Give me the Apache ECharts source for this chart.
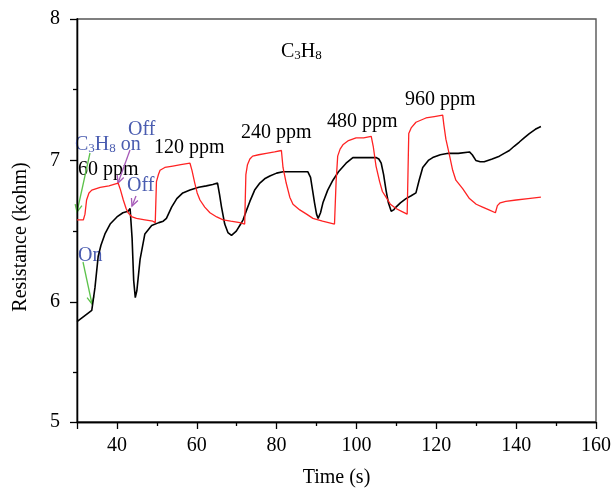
<!DOCTYPE html>
<html>
<head>
<meta charset="utf-8">
<script src="https://cdn.jsdelivr.net/npm/echarts@6/dist/echarts.min.js"></script>
<style>
html, body { margin: 0; padding: 0; background: #fff; }
#main { width: 614px; height: 493px; }
</style>
</head>
<body>
<div id="main"></div>
<script>
// sensor response, black trace
var blackTime = [30.0, 33.7, 34.5, 35.3, 36.0, 37.0, 38.3, 40.0, 41.5, 42.8, 43.3, 43.8, 44.2, 44.6, 45.0, 45.8,
    47.0, 48.7, 50.5, 51.6, 52.4, 53.7, 55.0, 56.5, 58.3, 60.5, 62.4, 64.0, 65.2, 65.7, 66.2, 67.0, 67.8, 68.7,
    69.9, 71.0, 71.6, 72.5, 73.3, 74.5, 75.8, 77.0, 78.3, 80.0, 81.6, 84.0, 87.8, 88.5, 89.0, 89.5, 90.0, 90.4,
    91.0, 91.6, 92.8, 94.1, 95.5, 97.4, 99.1, 101.0, 103.0, 104.9, 105.6, 106.2, 106.8, 107.4, 108.0, 108.7,
    109.3, 109.9, 111.0, 112.4, 113.7, 114.9, 115.7, 116.6, 118.0, 119.1, 121.0, 123.0, 125.5, 128.3, 129.0,
    129.9, 131.0, 132.0, 134.0, 135.8, 137.0, 138.3, 139.5, 140.8, 142.0, 143.3, 144.8, 146.2];
var blackRes = [5.86, 5.94, 6.10, 6.32, 6.40, 6.48, 6.55, 6.60, 6.63, 6.64, 6.66, 6.45, 6.15, 6.03, 6.08, 6.30,
    6.48, 6.54, 6.56, 6.57, 6.59, 6.67, 6.73, 6.77, 6.79, 6.81, 6.82, 6.83, 6.84, 6.76, 6.67, 6.55, 6.49, 6.47,
    6.50, 6.55, 6.58, 6.65, 6.71, 6.79, 6.84, 6.87, 6.89, 6.91, 6.92, 6.92, 6.92, 6.88, 6.79, 6.70, 6.62, 6.59,
    6.63, 6.70, 6.79, 6.86, 6.92, 6.98, 7.02, 7.02, 7.02, 7.02, 7.01, 6.98, 6.90, 6.79, 6.70, 6.64,
    6.65, 6.67, 6.70, 6.73, 6.75, 6.77, 6.86, 6.95, 7.00, 7.02, 7.04, 7.05, 7.05, 7.06, 7.04,
    7.00, 6.99, 6.99, 7.01, 7.03, 7.05, 7.07, 7.10, 7.13, 7.16, 7.19, 7.22, 7.24];

// sensor response, red trace
var redTime = [30.0, 31.6, 32.0, 32.4, 33.0, 33.7, 35.8, 38.0, 40.3, 40.8, 41.6, 42.3, 42.8, 43.8, 44.9, 47.0,
    49.0, 49.6, 49.9, 50.4, 50.8, 52.0, 54.0, 56.0, 58.3, 58.8, 59.5, 60.1, 60.8, 62.0, 63.3, 65.0, 66.6, 68.5,
    70.8, 72.0, 72.3, 72.7, 73.3, 74.0, 75.5, 77.4, 79.5, 81.2, 81.6, 82.4, 83.3, 84.1, 85.8, 87.5, 89.1, 91.5,
    94.5, 94.9, 95.3, 95.9, 96.6, 98.0, 99.9, 101.8, 103.7, 104.2, 104.9, 105.8, 106.5, 107.4, 108.5, 109.9,
    111.3, 112.7, 112.9, 113.1, 113.7, 114.9, 117.4, 119.5, 121.6, 121.9, 122.4, 123.2, 124.1, 124.9, 126.6,
    128.3, 130.0, 131.6, 133.2, 134.8, 135.3, 136.0, 137.4, 140.0, 143.0, 146.2];
var redRes = [6.58, 6.58, 6.62, 6.72, 6.77, 6.79, 6.81, 6.82, 6.84, 6.80, 6.72, 6.66, 6.63, 6.60, 6.59, 6.58,
    6.57, 6.56, 6.85, 6.90, 6.93, 6.95, 6.96, 6.97, 6.98, 6.93, 6.84, 6.77, 6.72, 6.67, 6.63, 6.60, 6.58, 6.57,
    6.56, 6.55, 6.90, 6.97, 7.01, 7.03, 7.04, 7.05, 7.06, 7.07, 6.95, 6.84, 6.74, 6.69, 6.65, 6.62, 6.59, 6.57,
    6.55, 6.85, 7.03, 7.08, 7.11, 7.14, 7.16, 7.16, 7.17, 7.10, 6.96, 6.85, 6.78, 6.74, 6.69, 6.66,
    6.64, 6.62, 6.90, 7.19, 7.23, 7.27, 7.30, 7.31, 7.32, 7.25, 7.15, 7.05, 6.93, 6.86, 6.80,
    6.73, 6.69, 6.67, 6.65, 6.63, 6.68, 6.70, 6.71, 6.72, 6.73, 6.74];

var xTicks = [30, 40, 60, 80, 100, 120, 140, 160];
var xLabels = [40, 60, 80, 100, 120, 140, 160];
var xMinorTicks = [50, 70, 90, 110, 130, 150];
var yTicks = [5, 6, 7, 8];
var yMinorTicks = [5.5, 6.5, 7.5];
var yBottom = 5.15;   // the drawn axis stops a bit above 5, where the "5" label sits

var ppmLabels = ['60 ppm', '120 ppm', '240 ppm', '480 ppm', '960 ppm'];

var serif = 'Liberation Serif';
var blue = '#4a5cb0';
var green = '#5cc24a';
var purple = '#a65ab8';

function pairs(xs, ys) {
    return xs.map(function (x, i) { return [x, ys[i]]; });
}

var yTickPos = yTicks.map(function (v) { return Math.max(v, yBottom); });

function arrow(x1, y1, x2, y2, color) {
    var a = Math.atan2(y2 - y1, x2 - x1), h = 8, s = 0.45;
    return {
        type: 'group',
        children: [
            { type: 'line', shape: { x1: x1, y1: y1, x2: x2, y2: y2 }, style: { stroke: color, lineWidth: 1.3 } },
            { type: 'polyline', shape: { points: [
                [x2 - h * Math.cos(a - s), y2 - h * Math.sin(a - s)], [x2, y2],
                [x2 - h * Math.cos(a + s), y2 - h * Math.sin(a + s)]] },
              style: { stroke: color, lineWidth: 1.3, fill: null } }
        ]
    };
}

function label(txt, x, y, color, size) {
    return {
        type: 'text', x: x, y: y,
        style: { text: txt, fill: color, font: (size || 20) + 'px "' + serif + '"', align: 'left', verticalAlign: 'middle' }
    };
}

function formula(x, y, color, tail) {
    return {
        type: 'text', x: x, y: y,
        style: {
            text: '{a|C}{b|3}{a|H}{b|8}' + (tail ? '{a|' + tail + '}' : ''),
            fill: color,
            verticalAlign: 'middle',
            rich: {
                a: { fontFamily: serif, fontSize: 20, lineHeight: 24, verticalAlign: 'bottom', fill: color },
                b: { fontFamily: serif, fontSize: 13, lineHeight: 13, verticalAlign: 'bottom', fill: color }
            }
        }
    };
}

var myChart = echarts.init(document.getElementById('main'));

var axisBase = {
    type: 'value',
    splitLine: { show: false },
    axisLine: { show: true, onZero: false, lineStyle: { color: '#000', width: 1.3 } }
};

var option = {
    animation: false,
    backgroundColor: '#fff',
    grid: {
        left: 77, right: 16, top: 19, bottom: 71,
        show: true, borderColor: '#555', borderWidth: 1.4, backgroundColor: 'transparent'
    },
    xAxis: [
        Object.assign({}, axisBase, {
            min: 30, max: 160, position: 'bottom',
            name: 'Time (s)', nameLocation: 'middle', nameGap: 46,
            nameTextStyle: { fontFamily: serif, fontSize: 20, color: '#000' },
            axisTick: { show: true, length: 7, customValues: xTicks, lineStyle: { color: '#000', width: 1.3 } },
            axisLabel: { customValues: xLabels, fontFamily: serif, fontSize: 20, color: '#000', margin: 14 }
        }),
        Object.assign({}, axisBase, {
            min: 30, max: 160, position: 'bottom',
            axisTick: { show: true, length: 4, customValues: xMinorTicks, lineStyle: { color: '#000', width: 1.3 } },
            axisLabel: { show: false }
        })
    ],
    yAxis: [
        Object.assign({}, axisBase, {
            min: yBottom, max: 8, position: 'left',
            axisTick: { show: true, length: 7, customValues: yTickPos, lineStyle: { color: '#000', width: 1.3 } },
            axisLabel: {
                customValues: yTickPos, fontFamily: serif, fontSize: 20, color: '#000', margin: 17,
                formatter: function (v) { return String(yTicks[yTickPos.indexOf(v)]); }
            }
        }),
        Object.assign({}, axisBase, {
            min: yBottom, max: 8, position: 'left',
            axisTick: { show: true, length: 4, customValues: yMinorTicks, lineStyle: { color: '#000', width: 1.3 } },
            axisLabel: { show: false }
        })
    ],
    series: [
        {
            name: 'black', type: 'line', showSymbol: false, symbol: 'none',
            data: pairs(blackTime, blackRes),
            lineStyle: { color: '#000', width: 1.6 }
        },
        {
            name: 'red', type: 'line', showSymbol: false, symbol: 'none',
            data: pairs(redTime, redRes),
            lineStyle: { color: '#ff2323', width: 1.3 }
        }
    ],
    graphic: [
        {
            type: 'text', x: 21, y: 237, rotation: Math.PI / 2,
            style: { text: 'Resistance (kohm)', fill: '#000', font: '20px "' + serif + '"', align: 'center', verticalAlign: 'middle' }
        },
        formula(281, 50, '#000'),
        label(ppmLabels[0], 78, 170, '#000'),
        label(ppmLabels[1], 154, 148, '#000'),
        label(ppmLabels[2], 241, 133, '#000'),
        label(ppmLabels[3], 327, 122, '#000'),
        label(ppmLabels[4], 405, 100, '#000'),
        formula(75, 143, blue, ' on'),
        label('Off', 128, 130, blue),
        label('Off', 127, 186, blue),
        label('On', 78, 256, blue),
        arrow(90, 153, 77, 212, green),
        arrow(83, 262, 92, 304, green),
        arrow(130, 150, 118, 183, purple),
        arrow(136, 196, 132, 206, purple)
    ]
};

myChart.setOption(option);
</script>
</body>
</html>
